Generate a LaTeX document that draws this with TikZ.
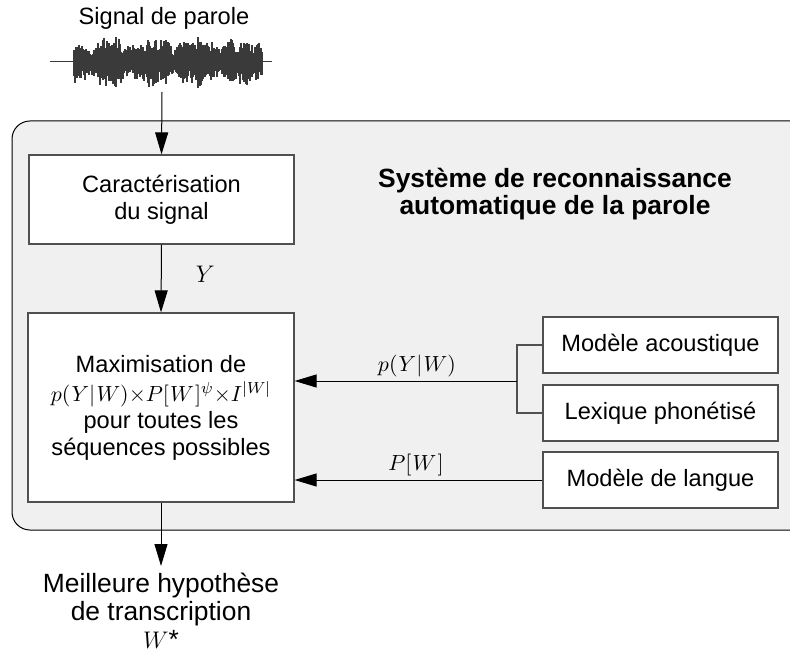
\documentclass[tikz,border=0pt]{standalone}
\usepackage{fontspec}
\setmainfont{Liberation Sans}
\usetikzlibrary{positioning, arrows.meta}

\definecolor{panelgris}{HTML}{F0F0F0}
\definecolor{bordgris}{HTML}{505050}
\definecolor{ondegris}{HTML}{3A3A3A}

\begin{document}
\begin{tikzpicture}[x=0.5pt, y=-0.5pt,
    font=\fontsize{11.8}{13.5}\selectfont,
    bloc/.style={draw=bordgris, line width=0.6pt, fill=white, align=center, inner sep=0pt},
    fleche/.style={draw=black, line width=0.5pt, -{Triangle[length=11pt, width=6.5pt]}},
    lien/.style={draw=bordgris, line width=0.6pt},
    etiq/.style={font=\fontsize{11.3}{13}\selectfont, inner sep=1pt},
    grand/.style={font=\fontsize{13.2}{13.9}\selectfont}]
    \useasboundingbox (0,0) rectangle (790,651);
    \clip (0,0) rectangle (790,651);

    % cadre du systeme
    \draw[fill=panelgris, line width=0.5pt, rounded corners=9pt] (12,121) rectangle (810,530);
    \node[font={\fontsize{13.2}{13.9}\selectfont\bfseries}, align=center] (titre) at (555,194) {Système de reconnaissance\\automatique de la parole};

    % signal de parole
    \node (signal) at (164,18) {Signal de parole};
    \draw[ondegris, line width=0.5pt] (50,62) -- (272,62);
    \pgfmathsetseed{42}
    \foreach \i in {74,...,262} {
        \pgfmathsetmacro{\env}{11 + 9*abs(sin(\i*4.1)) + 6*abs(sin(\i*11.3+20))}
        \pgfmathsetmacro{\hauta}{\env*(0.4 + 0.6*rnd)}
        \pgfmathsetmacro{\hautb}{\env*(0.4 + 0.6*rnd)}
        \draw[ondegris, line width=0.7pt] (\i,62-\hauta) -- (\i,62+\hautb);
    }
    \coordinate (sigfin) at (162,92);

    % blocs
    \node[bloc, minimum width=132.5pt, minimum height=44.5pt] (carac) at (161.5,199.5) {Caractérisation\\du signal};
    \node[bloc, minimum width=133pt, minimum height=94.5pt] (maxi) at (161,407.5) {Maximisation de\\[1pt]{\fontsize{11.3}{13}\selectfont$p(\mkern1mu Y|\mkern1mu W){\times}P[\mkern1mu W\mkern1mu]^{\psi}{\times}I^{|W|}$}\\pour toutes les\\séquences possibles};
    \node[bloc, minimum width=117.5pt, minimum height=28pt] (acou) at (660.5,345) {Modèle acoustique};
    \node[bloc, minimum width=117.5pt, minimum height=28pt] (lex) at (660.5,413) {Lexique phonétisé};
    \node[bloc, minimum width=117.5pt, minimum height=28pt] (langue) at (660.5,480) {Modèle de langue};
    \node[grand, align=center, anchor=north] (sortie) at (161,566) {Meilleure hypothèse\\de transcription\\$W$*};

    % connexions
    \coordinate (fourche) at (517,381);
    \draw[lien] (acou.west) -| (fourche) |- (lex.west);
    \draw[fleche] (sigfin) -- (carac.north);
    \draw[fleche] (carac.south) -- node[right, etiq, font=\fontsize{12.5}{13}\selectfont, xshift=16pt, yshift=2pt] {$Y$} (maxi.north);
    \draw[fleche] (fourche) -- node[above, etiq, pos=0.45, yshift=1pt] {$p(\mkern1mu Y|\mkern1mu W)$} (fourche -| maxi.east);
    \draw[fleche] (langue.west) -- node[above, etiq, pos=0.51, yshift=1pt] {$P[\mkern1mu W\mkern1mu]$} (langue.west -| maxi.east);
    \draw[fleche] (maxi.south) -- (sortie.north);
\end{tikzpicture}
\end{document}
